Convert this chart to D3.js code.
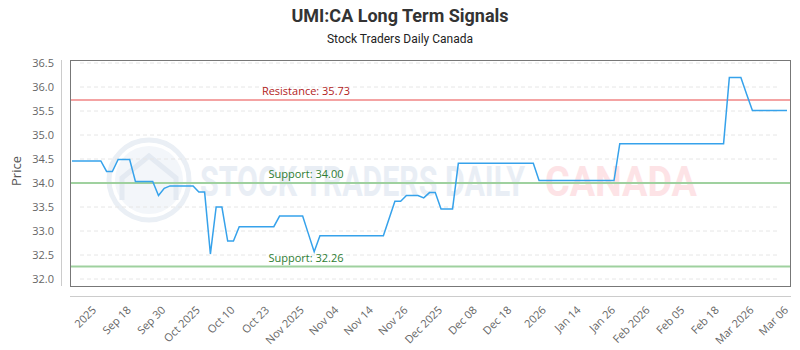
<!DOCTYPE html>
<html>
<head>
<meta charset="utf-8">
<script src="https://cdn.jsdelivr.net/npm/d3@7"></script>
<style>
  body { margin: 0; background: #fff; }
  text { font-family: "Open Sans", "Noto Sans", sans-serif; }
</style>
</head>
<body>
<div id="chart"></div>
<script>
// closing price per trading day
var prices = [
  34.46, 34.46, 34.46, 34.46, 34.46, 34.46, 34.24, 34.24, 34.49, 34.49,
  34.49, 34.03, 34.03, 34.03, 34.03, 33.74, 33.89, 33.94, 33.94, 33.94,
  33.94, 33.94, 33.81, 33.81, 32.52, 33.50, 33.50, 32.79, 32.79, 33.09,
  33.09, 33.09, 33.09, 33.09, 33.09, 33.09, 33.31, 33.31, 33.31, 33.31,
  33.31, 32.94, 32.57, 32.90, 32.90, 32.90, 32.90, 32.90, 32.90, 32.90,
  32.90, 32.90, 32.90, 32.90, 32.90, 33.26, 33.62, 33.62, 33.74, 33.74,
  33.74, 33.69, 33.80, 33.80, 33.46, 33.46, 33.46, 34.41, 34.41, 34.41,
  34.41, 34.41, 34.41, 34.41, 34.41, 34.41, 34.41, 34.41, 34.41, 34.41,
  34.41, 34.05, 34.05, 34.05, 34.05, 34.05, 34.05, 34.05, 34.05, 34.05,
  34.05, 34.05, 34.05, 34.05, 34.05, 34.82, 34.82, 34.82, 34.82, 34.82,
  34.82, 34.82, 34.82, 34.82, 34.82, 34.82, 34.82, 34.82, 34.82, 34.82,
  34.82, 34.82, 34.82, 34.82, 36.20, 36.20, 36.20, 35.85, 35.51, 35.51,
  35.51, 35.51, 35.51, 35.51, 35.51
];

var tickLabels = ["2025", "Sep 18", "Sep 30", "Oct 2025", "Oct 10", "Oct 23", "Nov 2025",
  "Nov 04", "Nov 14", "Nov 26", "Dec 2025", "Dec 08", "Dec 18", "2026", "Jan 14",
  "Jan 26", "Feb 2026", "Feb 05", "Feb 18", "Mar 2026", "Mar 06"];
var tickIndex = [3, 9, 15, 21, 27, 33, 39, 45, 51, 57, 63, 69, 75, 81, 87, 93, 99, 105, 111, 117, 123];

var yTicks = [32.0, 32.5, 33.0, 33.5, 34.0, 34.5, 35.0, 35.5, 36.0, 36.5];

var resistance = [35.73];
var supports = [34.00, 32.26];

var width = 800, height = 350;
var box = {left: 70, right: 790, top: 60, bottom: 286};

var x = d3.scaleLinear().domain([0, prices.length - 1]).range([72, 787]);
var y = d3.scaleLinear().domain([32, 36.5]).range([279, 63]);

var svg = d3.select('#chart').append('svg')
    .attr('width', width)
    .attr('height', height);

// titles
svg.append('text')
    .attr('x', 400).attr('y', 22)
    .attr('text-anchor', 'middle')
    .style('font-family', '"Liberation Sans Narrow", "Roboto", sans-serif')
    .style('font-size', '18px')
    .style('font-weight', 'bold')
    .attr('fill', '#333')
    .text('UMI:CA Long Term Signals');
svg.append('text')
    .attr('x', 400).attr('y', 43)
    .attr('text-anchor', 'middle')
    .style('font-family', '"Liberation Sans Narrow", "Roboto", sans-serif')
    .style('font-size', '12px')
    .attr('fill', '#222')
    .text('Stock Traders Daily Canada');

// watermark
var wm = svg.append('g');
wm.append('circle').attr('cx', 149).attr('cy', 180).attr('r', 40)
    .attr('fill', 'none').attr('stroke', '#eaeff5').attr('stroke-width', 5);
wm.append('circle').attr('cx', 149).attr('cy', 180).attr('r', 34)
    .attr('fill', '#f3f6fa');
wm.append('path')
    .attr('d', 'M122,200 L122,178 L149,156 L176,178 L176,200')
    .attr('fill', 'none').attr('stroke', '#e4eaf2').attr('stroke-width', 5);
wm.append('text')
    .attr('x', 200).attr('y', 196)
    .attr('textLength', 325).attr('lengthAdjust', 'spacingAndGlyphs')
    .style('font-family', '"Liberation Sans Narrow", "Roboto", sans-serif')
    .style('font-size', '42px').style('font-weight', 'bold')
    .attr('fill', '#e9eef5')
    .text('STOCK TRADERS DAILY');
wm.append('text')
    .attr('x', 545).attr('y', 196)
    .attr('textLength', 152).attr('lengthAdjust', 'spacingAndGlyphs')
    .style('font-family', '"Liberation Sans Narrow", "Roboto", sans-serif')
    .style('font-size', '42px').style('font-weight', 'bold')
    .attr('fill', '#fde3e6')
    .text('CANADA');

// grid
svg.append('g').selectAll('line')
  .data(yTicks)
  .join('line')
    .attr('x1', 80).attr('x2', 780)
    .attr('y1', d => y(d)).attr('y2', d => y(d))
    .attr('stroke', '#e6e6e6')
    .attr('stroke-dasharray', '4,3');

// plot frame and offset axis lines
svg.append('rect')
    .attr('x', box.left + 0.5).attr('y', box.top + 0.5)
    .attr('width', box.right - box.left).attr('height', box.bottom - box.top)
    .attr('fill', 'none').attr('stroke', '#777');
svg.append('line')
    .attr('x1', 61.5).attr('x2', 61.5).attr('y1', box.top).attr('y2', box.bottom)
    .attr('stroke', '#ccc');
svg.append('line')
    .attr('x1', box.left).attr('x2', box.right + 1).attr('y1', 296.5).attr('y2', 296.5)
    .attr('stroke', '#ccc');

// y axis labels
svg.append('g').selectAll('text')
  .data(yTicks)
  .join('text')
    .attr('x', 54).attr('y', d => y(d))
    .attr('dy', '0.35em')
    .attr('text-anchor', 'end')
    .style('font-size', '11px')
    .attr('fill', '#666')
    .text(d => d.toFixed(1));
svg.append('text')
    .attr('transform', 'translate(21,' + y(34.25) + ') rotate(-90)')
    .attr('text-anchor', 'middle')
    .style('font-size', '13px')
    .attr('fill', '#555')
    .text('Price');

// x axis labels
svg.append('g').selectAll('text')
  .data(tickIndex)
  .join('text')
    .attr('transform', d => 'translate(' + (x(d) + 5) + ',308) rotate(-45)')
    .attr('dy', '0.35em')
    .attr('text-anchor', 'end')
    .style('font-size', '11px')
    .attr('fill', '#666')
    .text((d, i) => tickLabels[i]);

// level lines
var levels = resistance.map(v => ({v: v, name: 'Resistance', line: '#f4a3a3', txt: '#b22222'}))
  .concat(supports.map(v => ({v: v, name: 'Support', line: '#9fd19f', txt: '#2e7d32'})));
var lv = svg.append('g').selectAll('g').data(levels).join('g');
lv.append('line')
    .attr('x1', box.left + 1).attr('x2', box.right)
    .attr('y1', d => y(d.v)).attr('y2', d => y(d.v))
    .attr('stroke', d => d.line)
    .attr('stroke-width', 2);
lv.append('text')
    .attr('x', 306).attr('y', d => y(d.v) - 5)
    .attr('text-anchor', 'middle')
    .style('font-size', '11px')
    .attr('fill', d => d.txt)
    .text(d => d.name + ': ' + d.v.toFixed(2));

// price line
var line = d3.line()
    .x((d, i) => x(i))
    .y(d => y(d));
svg.append('path')
    .datum(prices)
    .attr('d', line)
    .attr('fill', 'none')
    .attr('stroke', '#36a2eb')
    .attr('stroke-width', 1.5);
</script>
</body>
</html>
